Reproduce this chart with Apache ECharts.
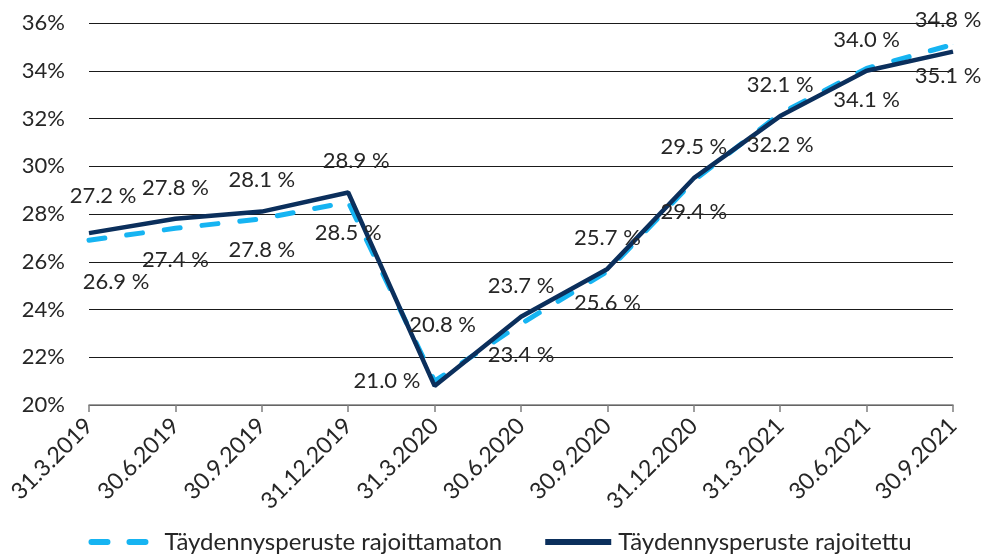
<!DOCTYPE html>
<html>
<head>
<meta charset="utf-8">
<script src="https://cdn.jsdelivr.net/npm/echarts@6/dist/echarts.min.js"></script>
<style>
  html, body { margin: 0; padding: 0; background: #fff; }
  #chart { width: 1000px; height: 560px; }
</style>
</head>
<body>
<div id="chart"></div>
<script>
// quarter-end dates
const dates = ['31.3.2019', '30.6.2019', '30.9.2019', '31.12.2019', '31.3.2020', '30.6.2020',
  '30.9.2020', '31.12.2020', '31.3.2021', '30.6.2021', '30.9.2021']
// Täydennysperuste rajoittamaton (dashed)
const unlimited = [26.9, 27.4, 27.8, 28.5, 21.0, 23.4, 25.6, 29.4, 32.2, 34.1, 35.1]
// Täydennysperuste rajoitettu (solid)
const limited = [27.2, 27.8, 28.1, 28.9, 20.8, 23.7, 25.7, 29.5, 32.1, 34.0, 34.8]
const yTicks = [20, 22, 24, 26, 28, 30, 32, 34, 36]

const FONT = 'Lato'
const FS = 22
const fmt = v => v.toFixed(1) + ' %'

// label tweaks, as in the original (index -> label options)
const dashedLabelFix = {
  0: {offset: [27, 10]},
  4: {position: 'left', distance: 14},
  10: {offset: [-5, 0]}
}
const solidLabelFix = {
  0: {offset: [14, -6]},
  3: {offset: [8, 0]},
  4: {offset: [8, -30]},
  10: {offset: [-5, 0]}
}

function buildData(values, fix) {
  return values.map((v, i) => fix[i] ? {value: v, label: fix[i]} : v)
}

const labelStyle = {
  show: true,
  fontFamily: FONT,
  fontSize: FS,
  color: '#262626',
  formatter: p => fmt(p.value)
}

const chart = echarts.init(document.getElementById('chart'))
chart.setOption({
  animation: false,
  textStyle: {fontFamily: FONT},
  grid: {left: 89, right: 47, top: 23, bottom: 155},
  legend: {
    bottom: 1,
    left: 'center',
    itemWidth: 66,
    itemHeight: 14,
    itemGap: 40,
    itemStyle: {opacity: 0},
    lineStyle: {width: 6},
    textStyle: {fontFamily: FONT, fontSize: 24, color: '#262626', padding: [0, 0, 0, 2]},
    data: ['Täydennysperuste rajoittamaton', 'Täydennysperuste rajoitettu']
  },
  xAxis: {
    type: 'category',
    data: dates,
    boundaryGap: false,
    axisLine: {lineStyle: {color: '#7f7f7f', width: 1.5}},
    axisTick: {show: true, length: 7, alignWithLabel: true, lineStyle: {color: '#7f7f7f', width: 1.5}},
    axisLabel: {rotate: 45, fontSize: 23, color: '#262626', fontFamily: FONT, margin: 17, interval: 0},
    splitLine: {show: false}
  },
  yAxis: {
    type: 'value',
    min: yTicks[0],
    max: yTicks[yTicks.length - 1],
    interval: 2,
    axisLine: {show: false},
    axisTick: {show: false},
    axisLabel: {fontSize: FS, color: '#262626', fontFamily: FONT, margin: 24, formatter: '{value}%'},
    splitLine: {lineStyle: {color: '#1a1a1a', width: 1}}
  },
  series: [{
    name: 'Täydennysperuste rajoittamaton',
    type: 'line',
    data: buildData(unlimited, dashedLabelFix),
    symbol: 'circle',
    symbolSize: 0.5,
    lineStyle: {color: '#16b4f2', width: 5, type: [16, 22], cap: 'round'},
    itemStyle: {color: '#16b4f2'},
    label: Object.assign({}, labelStyle, {position: 'bottom', distance: 20})
  }, {
    name: 'Täydennysperuste rajoitettu',
    type: 'line',
    data: buildData(limited, solidLabelFix),
    symbol: 'circle',
    symbolSize: 0.5,
    lineStyle: {color: '#0b2f5c', width: 4.5},
    itemStyle: {color: '#0b2f5c'},
    label: Object.assign({}, labelStyle, {position: 'top', distance: 20})
  }]
})
</script>
</body>
</html>
